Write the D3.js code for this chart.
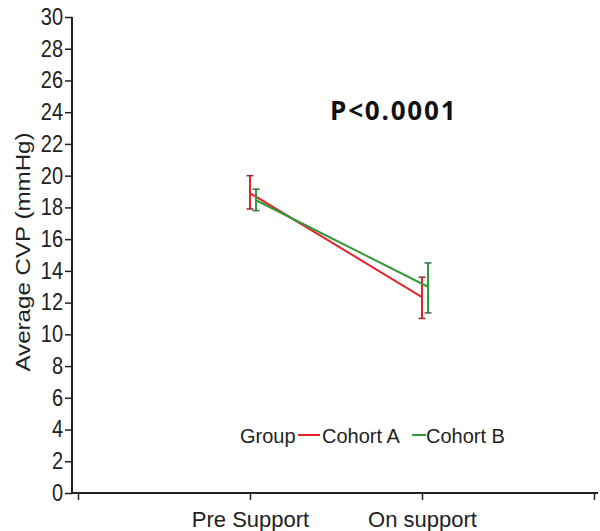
<!DOCTYPE html>
<html>
<head>
<meta charset="utf-8">
<script src="https://cdn.jsdelivr.net/npm/d3@7"></script>
<style>
  body { margin: 0; background: #fff; }
  text { font-family: "Liberation Sans", Arial, sans-serif; fill: #222; }
</style>
</head>
<body>
<div id="chart"></div>
<script>
// data
const timepoints = ["Pre Support", "On support"];
const groups = ["Cohort A", "Cohort B"];
const groupColors = ["#e3242b", "#33993a"];
const capColors = ["#8e3035", "#3f6a45"];
const meanA = [18.9, 12.35];
const upperA = [20.0, 13.6];
const lowerA = [17.9, 11.0];
const meanB = [18.45, 13.0];
const upperB = [19.15, 14.5];
const lowerB = [17.8, 11.35];
const yTicks = [0, 2, 4, 6, 8, 10, 12, 14, 16, 18, 20, 22, 24, 26, 28, 30];
const pLabel = "P<0.0001";

const width = 600, height = 531;
const svg = d3.select("#chart").append("svg")
    .attr("width", width)
    .attr("height", height);

// scales
const x = d3.scaleLinear().domain([0, 3]).range([78, 594]);
const y = d3.scaleLinear().domain([0, 30]).range([493, 17]);
const offsets = [0, 0.035];

// y axis
const yAxis = svg.append("g")
    .attr("transform", "translate(72,0)")
    .call(d3.axisLeft(y).tickValues(yTicks).tickSize(7).tickPadding(2).tickFormat(d3.format("d")));
yAxis.select(".domain").attr("stroke", "#222").attr("stroke-width", 2).attr("d", `M0,${y(30)}V${y(0)}`);
yAxis.selectAll(".tick line").attr("stroke", "#222").attr("stroke-width", 1.5);
yAxis.selectAll(".tick text")
    .attr("font-size", 20)
    .attr("font-family", "Liberation Sans, Arial, sans-serif")
    .attr("fill", "#222")
    .attr("transform", "scale(1,1.15)");

// x axis
const xAxis = svg.append("g")
    .attr("transform", `translate(0,${y(0)})`)
    .call(d3.axisBottom(x).tickValues([0, 1, 2, 3]).tickSize(7).tickPadding(11)
        .tickFormat(d => timepoints[d - 1] || ""));
xAxis.select(".domain").attr("stroke", "#222").attr("stroke-width", 2).attr("d", `M72,0H598`);
xAxis.selectAll(".tick line").attr("stroke", "#222").attr("stroke-width", 1.5);
xAxis.selectAll(".tick text")
    .attr("font-size", 22)
    .attr("font-family", "Liberation Sans, Arial, sans-serif")
    .attr("fill", "#222");

// y title
svg.append("text")
    .attr("transform", `translate(30,252) rotate(-90) scale(1.15,1)`)
    .attr("text-anchor", "middle")
    .attr("font-size", 21)
    .text("Average CVP (mmHg)");

// series
const series = [
    {name: groups[0], color: groupColors[0], cap: capColors[0], mean: meanA, hi: upperA, lo: lowerA, off: offsets[0]},
    {name: groups[1], color: groupColors[1], cap: capColors[1], mean: meanB, hi: upperB, lo: lowerB, off: offsets[1]}
];

const line = d3.line()
    .x(d => x(d.i + 1 + d.off))
    .y(d => y(d.v));

series.forEach(s => {
    const pts = s.mean.map((v, i) => ({v: v, off: s.off, i: i}));
    const g = svg.append("g");
    g.append("path")
        .datum(pts)
        .attr("d", line)
        .attr("fill", "none")
        .attr("stroke", s.color)
        .attr("stroke-width", 2);
    s.mean.forEach((v, i) => {
        const cx = x(i + 1 + s.off);
        g.append("line")
            .attr("x1", cx).attr("x2", cx)
            .attr("y1", y(s.lo[i])).attr("y2", y(s.hi[i]))
            .attr("stroke", s.color).attr("stroke-width", 2);
        [s.lo[i], s.hi[i]].forEach(e => {
            g.append("line")
                .attr("x1", cx - 3.5).attr("x2", cx + 3.5)
                .attr("y1", y(e)).attr("y2", y(e))
                .attr("stroke", s.cap).attr("stroke-width", 1.5);
        });
    });
});

// p value
svg.append("text")
    .attr("x", 330)
    .attr("y", 120)
    .attr("font-weight", "bold")
    .attr("font-size", 26)
    .attr("letter-spacing", 1.8)
    .style("font-family", "Open Sans, sans-serif")
    .style("fill", "#111")
    .text(pLabel);

// legend
const legend = svg.append("g").attr("font-size", 20);
legend.append("text").attr("x", 240).attr("y", 443).text("Group");
legend.append("line").attr("x1", 298).attr("x2", 320).attr("y1", 435).attr("y2", 435)
    .attr("stroke", groupColors[0]).attr("stroke-width", 2);
legend.append("text").attr("x", 322).attr("y", 443).text(groups[0]);
legend.append("line").attr("x1", 412).attr("x2", 426).attr("y1", 435).attr("y2", 435)
    .attr("stroke", groupColors[1]).attr("stroke-width", 2);
legend.append("text").attr("x", 426).attr("y", 443).text(groups[1]);
</script>
</body>
</html>
